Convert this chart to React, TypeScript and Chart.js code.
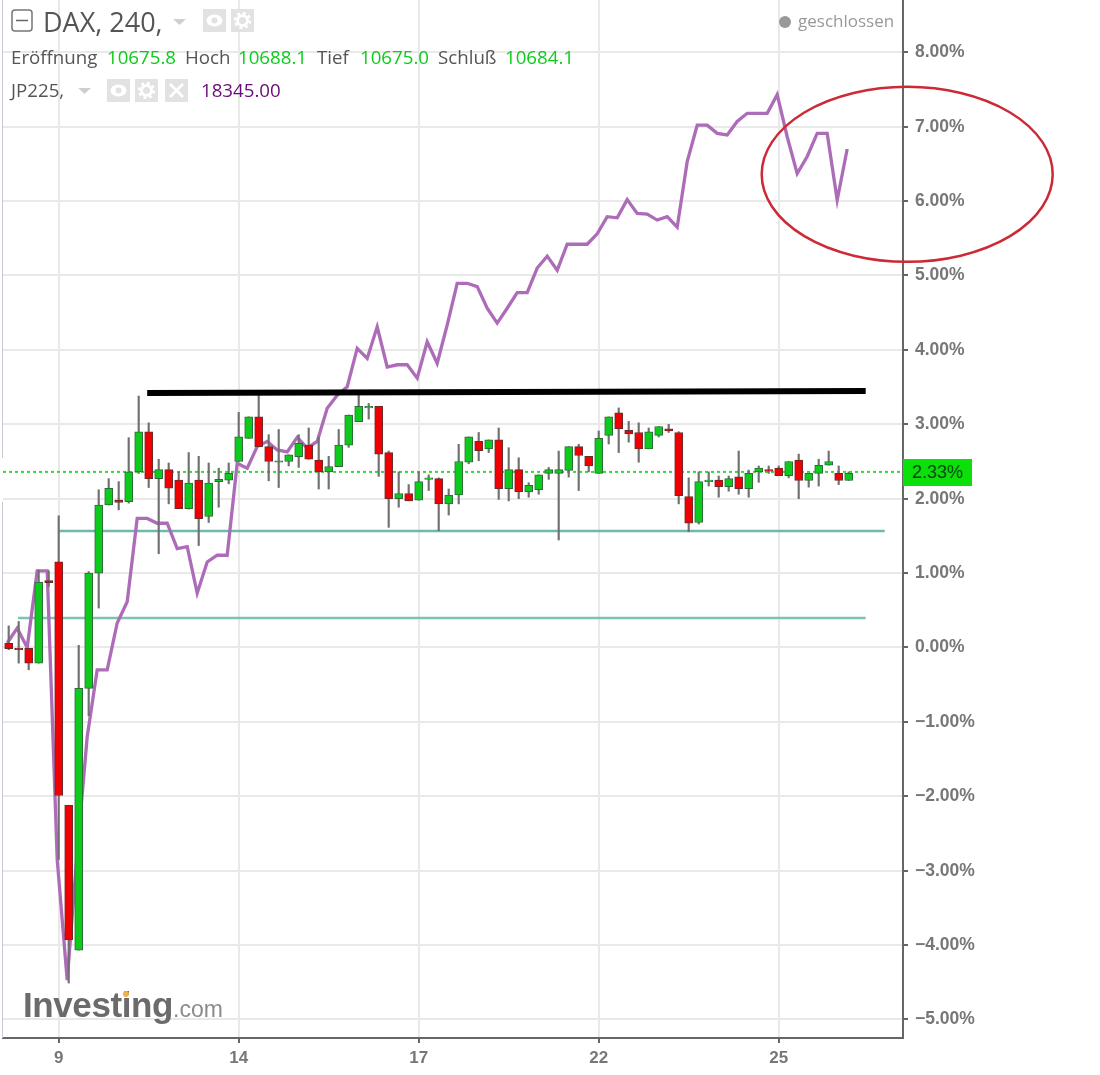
import React, { useEffect, useRef } from "react";
import { Chart, registerables } from "chart.js";

Chart.register(...registerables);

const opens = [0.056,-0.01,-0.01,-0.21,0.9,1.15,-2.12,-4.07,-0.55,1.0,1.915,1.98,1.96,2.36,2.9,2.27,2.39,2.25,1.865,2.25,1.76,2.23,2.25,2.5,2.81,3.1,2.7,2.49,2.5,2.565,2.72,2.52,2.36,2.43,2.72,3.035,3.22,3.24,2.62,2.0,2.07,1.98,2.26,2.27,1.93,2.05,2.49,2.77,2.67,2.79,2.135,2.39,2.09,2.12,2.34,2.34,2.38,2.7,2.57,2.34,2.85,3.155,2.92,2.89,2.67,2.85,2.94,2.89,2.03,1.68,2.23,2.25,2.16,2.295,2.135,2.36,2.39,2.41,2.31,2.52,2.245,2.34,2.45,2.34,2.245];
const highs = [0.29,0.35,-0.01,1.04,1.03,1.77,-2.12,0.03,1.02,2.12,2.27,2.23,2.82,3.38,3.02,2.53,2.48,2.36,2.62,2.57,2.48,2.41,2.48,3.16,3.1,3.42,2.86,2.93,2.59,2.86,2.95,2.83,2.57,2.93,3.125,3.42,3.28,3.24,2.64,2.36,2.19,2.36,2.32,2.28,2.13,2.73,2.83,2.89,2.79,2.95,2.685,2.55,2.215,2.32,2.42,2.64,2.7,2.73,2.57,2.91,3.1,3.22,3.04,3.02,2.95,2.97,3.0,2.9,2.28,2.36,2.36,2.305,2.305,2.64,2.385,2.44,2.44,2.44,2.5,2.6,2.34,2.53,2.64,2.44,2.36];
const lows = [-0.03,-0.21,-0.3,-0.21,0.82,-2.85,-4.51,-4.07,-0.92,0.53,1.915,1.85,1.94,2.34,2.15,1.26,1.93,1.865,1.86,1.37,1.68,1.885,2.2,2.5,2.81,2.7,2.24,2.15,2.44,2.42,2.53,2.13,2.13,2.43,2.69,3.035,3.07,2.3,1.615,1.885,1.97,1.98,2.11,1.57,1.78,1.93,2.47,2.51,2.62,1.99,1.97,2.0,2.02,2.06,2.26,1.445,2.29,2.11,2.36,2.34,2.735,2.62,2.76,2.49,2.67,2.83,2.89,1.93,1.555,1.66,2.17,2.02,2.1,2.06,2.02,2.22,2.34,2.31,2.28,2.0,2.155,2.17,2.45,2.19,2.245];
const closes = [-0.016,-0.03,-0.21,0.88,0.87,-1.99,-3.93,-0.55,1.0,1.915,2.14,1.95,2.36,2.9,2.27,2.39,2.14,1.865,2.21,1.73,2.21,2.26,2.34,2.83,3.1,2.7,2.5,2.51,2.59,2.745,2.53,2.36,2.43,2.72,3.125,3.24,3.24,2.6,2.0,2.07,1.97,2.23,2.28,1.93,2.05,2.5,2.83,2.645,2.79,2.135,2.39,2.09,2.18,2.32,2.39,2.39,2.7,2.58,2.44,2.81,3.1,2.94,2.87,2.67,2.9,2.97,2.91,2.04,1.67,2.23,2.25,2.16,2.27,2.135,2.34,2.41,2.37,2.31,2.5,2.245,2.34,2.45,2.5,2.245,2.34];
const jp225 = [0.06,0.26,0.0,1.03,1.03,-2.85,-4.47,-2.75,-1.2,-0.3,-0.3,0.33,0.615,1.735,1.735,1.67,1.67,1.33,1.355,0.73,1.15,1.24,1.24,2.475,2.41,2.7,2.77,2.655,2.63,2.825,2.68,2.77,3.215,3.39,3.505,4.02,3.885,4.31,3.77,3.8,3.8,3.62,4.11,3.82,4.335,4.895,4.895,4.85,4.56,4.36,4.56,4.77,4.77,5.1,5.26,5.07,5.42,5.42,5.42,5.56,5.79,5.775,6.02,5.835,5.825,5.745,5.79,5.65,6.53,7.02,7.02,6.91,6.89,7.07,7.18,7.18,7.18,7.43,6.865,6.37,6.6,6.91,6.91,6.015,6.7];

const yTicks = [-5,-4,-3,-2,-1,0,1,2,3,4,5,6,7,8];
const xTickIndex = [5,23,41,59,77];
const xTickLabels = ["9","14","17","22","25"];

const resistance = [{ x: 13.85, y: 3.42 }, { x: 85.7, y: 3.447 }];
const support1 = [{ x: 4.93, y: 1.566 }, { x: 87.6, y: 1.566 }];
const support2 = [{ x: 0.93, y: 0.397 }, { x: 85.7, y: 0.397 }];
const lastPrice = [{ x: -0.57, y: 2.36 }, { x: 89.43, y: 2.36 }];
const ellipse = { x: 89.85, y: 6.36, rx: 14.55, ry: 1.176 };
const jpShift = -0.15;

const abs = (s: React.CSSProperties): React.CSSProperties => ({ position: "absolute", whiteSpace: "nowrap", ...s });
const FONT = '"Open Sans", sans-serif';
const GREEN = "#0ccc1c";

function Txt({ x, y, size = 18.7, color = "#555", children }: any) {
  return <div style={abs({ left: x, top: y, fontFamily: FONT, fontSize: size, color, lineHeight: "24px" })}>{children}</div>;
}
function Box({ x, y, kind }: { x: number; y: number; kind: string }) {
  return (
    <svg style={abs({ left: x, top: y })} width={23} height={23}>
      <rect width={23} height={23} fill="#e2e2e2" />
      {kind === "eye" && <><ellipse cx={11.5} cy={11.5} rx={8} ry={6} fill="#fff" /><circle cx={11.5} cy={11.5} r={3} fill="#e2e2e2" /></>}
      {kind === "gear" && <><circle cx={11.5} cy={11.5} r={5} fill="none" stroke="#fff" strokeWidth={3} /><circle cx={11.5} cy={11.5} r={7.5} fill="none" stroke="#fff" strokeWidth={2.5} strokeDasharray="3 2.9" /></>}
      {kind === "x" && <path d="M5 5 L18 18 M18 5 L5 18" stroke="#fff" strokeWidth={2.5} />}
    </svg>
  );
}
function Arrow({ x, y }: { x: number; y: number }) {
  return <svg style={abs({ left: x, top: y })} width={13} height={6}><polygon points="0,0 13,0 6.5,6" fill="#cfcfcf" /></svg>;
}

export default function App() {
  const ref = useRef<HTMLCanvasElement>(null);
  useEffect(() => {
    const candles = opens.map((o, i) => ({ x: i, y: [o, closes[i]] }));
    const wicks = highs.map((h, i) => ({ x: i, y: [lows[i], h] }));
    const up = opens.map((o, i) => closes[i] >= o);
    const ellipsePlugin = {
      id: "ellipse",
      afterDraw(c: any) {
        const { x, y } = c.scales;
        const ctx = c.ctx;
        ctx.save();
        ctx.beginPath();
        ctx.ellipse(
          x.getPixelForValue(ellipse.x),
          y.getPixelForValue(ellipse.y),
          Math.abs(x.getPixelForValue(ellipse.x + ellipse.rx) - x.getPixelForValue(ellipse.x)),
          Math.abs(y.getPixelForValue(ellipse.y + ellipse.ry) - y.getPixelForValue(ellipse.y)),
          0, 0, Math.PI * 2
        );
        ctx.strokeStyle = "#cc2a35";
        ctx.lineWidth = 2.5;
        ctx.stroke();
        ctx.restore();
      },
    };
    const hline = (data: any[], color: string, width: number, order: number, extra: any = {}) => ({
      type: "line", data, borderColor: color, borderWidth: width, pointRadius: 0, order, ...extra,
    });
    const noPad = (s: any) => { s.paddingTop = 0; s.paddingBottom = 0; s.paddingLeft = 0; s.paddingRight = 0; };
    const chart = new Chart(ref.current as HTMLCanvasElement, {
      type: "bar",
      data: {
        datasets: [
          hline(resistance, "#000000", 6, 1),
          { type: "bar", data: candles, barThickness: 8, grouped: false, borderSkipped: false, borderWidth: 1,
            backgroundColor: up.map((u) => (u ? "#0ccb1c" : "#f00000")),
            borderColor: up.map((u) => (u ? "#2f6b38" : "#6e2a2a")), order: 2 },
          { type: "bar", data: wicks, barThickness: 1.5, grouped: false, borderSkipped: false, borderWidth: 0,
            backgroundColor: "#707070", order: 3 },
          hline(lastPrice, "#2fdc2f", 2, 4, { borderDash: [3, 3] }),
          hline(jp225.map((v, i) => ({ x: i + jpShift, y: v })), "#ad6cb8", 3.3, 5, { borderJoinStyle: "miter" }),
          hline(support1, "#6fb9aa", 2.4, 6),
          hline(support2, "#7cc3b4", 2.4, 6),
        ],
      } as any,
      options: {
        animation: false,
        responsive: false,
        devicePixelRatio: 1,
        layout: { autoPadding: false, padding: { left: 3, top: 0, right: 0, bottom: 0 } },
        plugins: { legend: { display: false }, tooltip: { enabled: false } },
        scales: {
          x: {
            type: "linear", min: -0.57, max: 89.43, offset: false,
            afterFit: (s: any) => { s.height = 37; noPad(s); },
            afterBuildTicks: (s: any) => { s.ticks = xTickIndex.map((value) => ({ value })); },
            grid: { offset: false, color: "#e9e9e9", lineWidth: 2, tickLength: 5, tickColor: "#666" },
            border: { color: "#666", width: 2 },
            ticks: {
              autoSkip: false, maxRotation: 0, padding: 5, color: "#777",
              font: { family: "Liberation Sans", size: 17, weight: "bold" },
              callback: (v: any) => xTickLabels[xTickIndex.indexOf(Number(v))] ?? "",
            },
          },
          y: {
            type: "linear", position: "right", min: -5.249, max: 8.703,
            afterFit: (s: any) => { s.width = 197; noPad(s); },
            afterBuildTicks: (s: any) => { s.ticks = yTicks.map((value) => ({ value })); },
            grid: { color: "#e9e9e9", lineWidth: 2, tickLength: 5, tickColor: "#666" },
            border: { color: "#666", width: 2 },
            ticks: {
              padding: 7, color: "#777",
              font: { family: "Liberation Sans", size: 17.5, weight: "bold" },
              callback: (v: any) => `${Number(v) < 0 ? "\u2212" : ""}${Math.abs(Number(v)).toFixed(2)}%`,
            },
          },
        },
      } as any,
      plugins: [ellipsePlugin],
    });
    return () => chart.destroy();
  }, []);

  return (
    <div style={{ position: "absolute", left: 0, top: 0, width: 1100, height: 1075, background: "#fff", overflow: "hidden" }}>
      <canvas ref={ref} width={1100} height={1075} style={{ position: "absolute", left: 0, top: 0, display: "block" }} />
      <div style={abs({ left: 2, top: 0, width: 1, height: 458, background: "#c9c9d6" })} />
      <div style={abs({ left: 2, top: 502, width: 1, height: 536, background: "#c9c9d6" })} />

      <svg style={abs({ left: 11, top: 9 })} width={22} height={24}>
        <rect x={1} y={1} width={20} height={21} rx={3} fill="#fff" stroke="#777" strokeWidth={1.5} />
        <path d="M5 11.5 H17" stroke="#666" strokeWidth={1.5} />
      </svg>
      <div style={abs({ left: 43, top: 6, fontFamily: FONT, fontSize: 27, color: "#555", lineHeight: "32px" })}>DAX, 240,</div>
      <Arrow x={173} y={19} />
      <Box x={203} y={9} kind="eye" />
      <Box x={231} y={9} kind="gear" />

      <Txt x={11} y={45}>Eröffnung</Txt>
      <Txt x={107} y={45} color={GREEN}>10675.8</Txt>
      <Txt x={185} y={45}>Hoch</Txt>
      <Txt x={238} y={45} color={GREEN}>10688.1</Txt>
      <Txt x={317} y={45}>Tief</Txt>
      <Txt x={360} y={45} color={GREEN}>10675.0</Txt>
      <Txt x={438} y={45}>Schluß</Txt>
      <Txt x={505} y={45} color={GREEN}>10684.1</Txt>

      <Txt x={11} y={78}>JP225,</Txt>
      <Arrow x={78} y={88} />
      <Box x={107} y={79} kind="eye" />
      <Box x={135} y={79} kind="gear" />
      <Box x={165} y={79} kind="x" />
      <Txt x={201} y={78} color="#6a0a7a">18345.00</Txt>

      <div style={abs({ left: 779, top: 16, width: 12, height: 12, borderRadius: 6, background: "#999" })} />
      <Txt x={798} y={9} size={17} color="#999">geschlossen</Txt>

      <div style={abs({ left: 903, top: 459, width: 69, height: 27, background: "#0be00b", color: "#0a4a10", fontFamily: "Liberation Sans", fontSize: 18, lineHeight: "27px", textAlign: "center" })}>2.33%</div>

      <div style={abs({ left: 23, top: 985, fontFamily: "Liberation Sans", fontWeight: "bold", fontSize: 35, letterSpacing: -0.4, color: "#6b6b6b", lineHeight: "40px" })}>Investing</div>
      <div style={abs({ left: 173, top: 989, fontFamily: "Liberation Sans", fontSize: 23, color: "#8c8c8c", lineHeight: "40px" })}>.com</div>
      <div style={abs({ left: 123, top: 991, width: 6, height: 6, borderRadius: 3, background: "#f2b04a" })} />
    </div>
  );
}
